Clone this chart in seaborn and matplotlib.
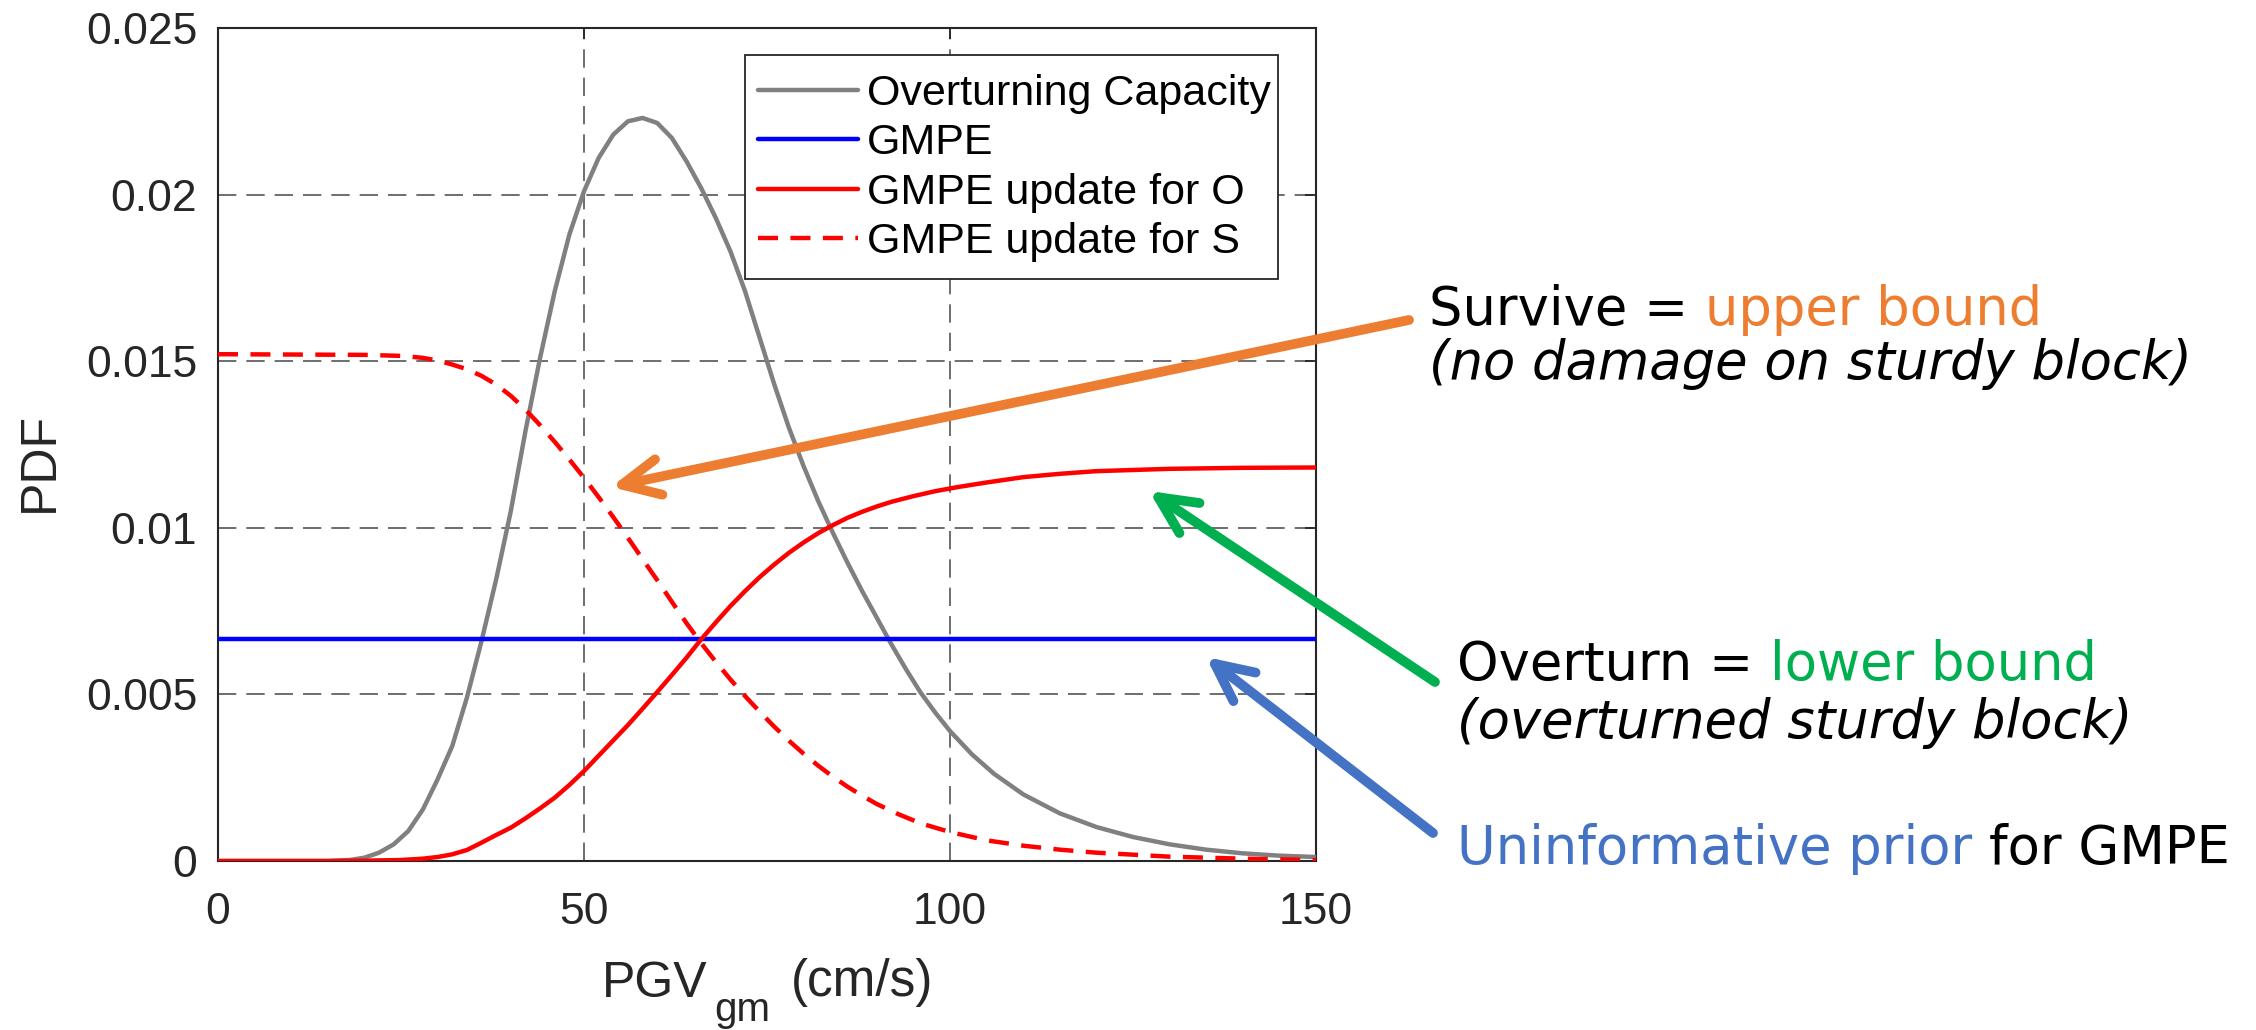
import matplotlib
matplotlib.use("Agg")
import matplotlib.pyplot as plt
from matplotlib.patches import FancyArrowPatch, ArrowStyle, Rectangle
import seaborn as sns

# ---- curve samples: PGV_gm (cm/s) vs PDF ----
x_capacity = [0, 15, 18, 20, 22, 24, 26, 28, 30, 32, 34, 36, 38, 40, 42, 44, 46, 48,
              50, 52, 54, 56, 58, 60, 62, 64, 66, 68, 70, 72, 74, 76, 78, 80, 82, 84,
              86, 88, 90, 92, 94, 96, 98, 100, 103, 106, 110, 115, 120, 125, 130,
              135, 140, 145, 150]
y_capacity = [0, 0, 0.00003, 0.0001, 0.00025, 0.0005, 0.0009, 0.00155, 0.00245,
              0.00345, 0.0049, 0.0066, 0.00845, 0.0105, 0.0129, 0.0151, 0.0171,
              0.0188, 0.0201, 0.0211, 0.0218, 0.0222, 0.0223, 0.02215, 0.0217,
              0.021, 0.0202, 0.0193, 0.0183, 0.0171, 0.0157, 0.0143, 0.013, 0.01185,
              0.0108, 0.00985, 0.00895, 0.0081, 0.0073, 0.0065, 0.00575, 0.00505,
              0.00445, 0.0039, 0.0032, 0.00262, 0.002, 0.00143, 0.00102, 0.00072,
              0.0005, 0.00034, 0.00023, 0.00016, 0.00012]

x_gmpe = [0, 150]
y_gmpe = [0.006667, 0.006667]

x_update_o = [0, 15, 20, 25, 28, 30, 32, 34, 36, 38, 40, 42, 44, 46, 48, 50, 52, 54,
              56, 58, 60, 62, 64, 66, 68, 70, 72, 74, 76, 78, 80, 82, 84, 86, 88, 90,
              92, 95, 98, 101, 105, 110, 115, 120, 130, 140, 150]
y_update_o = [0, 0, 0.00001, 0.00003, 0.00007, 0.00012, 0.0002, 0.00033, 0.00055,
              0.00078, 0.001, 0.00128, 0.00158, 0.0019, 0.00228, 0.0027, 0.00316,
              0.00362, 0.00408, 0.00457, 0.00507, 0.00558, 0.0061, 0.00665, 0.00716,
              0.00765, 0.0081, 0.00852, 0.0089, 0.00925, 0.00956, 0.00984, 0.01008,
              0.0103, 0.01048, 0.01064, 0.01078, 0.01095, 0.0111, 0.01122, 0.01136,
              0.01152, 0.01162, 0.0117, 0.01177, 0.0118, 0.01181]

x_update_s = [0, 10, 20, 25, 28, 30, 32, 34, 36, 38, 40, 42, 44, 46, 48, 50, 52, 54,
              56, 58, 60, 62, 64, 66, 68, 70, 72, 74, 76, 78, 80, 82, 84, 86, 88, 90,
              93, 96, 100, 105, 110, 115, 120, 130, 140, 150]
y_update_s = [0.01521, 0.0152, 0.01519, 0.01516, 0.0151, 0.01502, 0.0149, 0.01476,
              0.01456, 0.0143, 0.01396, 0.01355, 0.01308, 0.01258, 0.01205, 0.0115,
              0.01092, 0.01032, 0.0097, 0.00906, 0.00843, 0.00778, 0.00714, 0.00654,
              0.00598, 0.00545, 0.00495, 0.00448, 0.00403, 0.00361, 0.00322, 0.00286,
              0.00253, 0.00223, 0.00196, 0.00171, 0.0014, 0.00113, 0.00087, 0.00062,
              0.00046, 0.00034, 0.00025, 0.00013, 0.00007, 0.00003]

series_labels = ["Overturning Capacity", "GMPE", "GMPE update for O", "GMPE update for S"]
x_ticks = [0, 50, 100, 150]
y_ticks = [0, 0.005, 0.01, 0.015, 0.02, 0.025]
y_tick_labels = ["0", "0.005", "0.01", "0.015", "0.02", "0.025"]

sns.set_style("white")
plt.rcParams["font.family"] = ["Liberation Sans", "DejaVu Sans"]

W, H = 2256, 1030
fig = plt.figure(figsize=(W / 100, H / 100), dpi=100)
fig.patch.set_facecolor("white")
ax_l, ax_r, ax_t, ax_b = 218, 1316, 28, 861
ax = fig.add_axes([ax_l / W, 1 - ax_b / H, (ax_r - ax_l) / W, (ax_b - ax_t) / H])

lw = 3.2
sns.lineplot(x=x_capacity, y=y_capacity, ax=ax, color="#808080", linewidth=lw,
             label=series_labels[0], zorder=3)
sns.lineplot(x=x_gmpe, y=y_gmpe, ax=ax, color="#0000FF", linewidth=lw,
             label=series_labels[1], zorder=3)
sns.lineplot(x=x_update_o, y=y_update_o, ax=ax, color="#FF0000", linewidth=lw,
             label=series_labels[2], zorder=3)
sns.lineplot(x=x_update_s, y=y_update_s, ax=ax, color="#FF0000", linewidth=lw,
             linestyle=(0, (4.5, 2.8)), label=series_labels[3], zorder=3)
for ln in ax.lines:
    ln.set_solid_joinstyle("round")

ax.set_xlim(0, 150)
ax.set_ylim(0, 0.025)
ax.set_xticks(x_ticks)
ax.set_xticklabels([str(v) for v in x_ticks])
ax.set_yticks(y_ticks)
ax.set_yticklabels(y_tick_labels)

ax.grid(True, color="#555555", lw=1.2, linestyle=(0, (11, 6)), zorder=0)
ax.set_axisbelow(True)
for sp in ax.spines.values():
    sp.set_visible(True)
    sp.set_color("#262626")
    sp.set_linewidth(1.5)
ax.tick_params(axis="both", which="major", direction="in", length=8, width=1.3,
               color="#262626", labelcolor="#262626", labelsize=32,
               top=True, right=True)
ax.tick_params(axis="x", pad=22)
ax.tick_params(axis="y", pad=15)
ax.set_xlabel("")
ax.set_ylabel("")


def fx(px):
    return px / W


def fy(py):
    return 1 - py / H


# ---- legend: boxed panel in the upper right of the axes ----
legend_box = Rectangle((fx(745), fy(279)), fx(1278) - fx(745), fy(55) - fy(279),
                       transform=fig.transFigure, facecolor="white",
                       edgecolor="#262626", lw=1.3, zorder=4.5, clip_on=False)
ax.add_patch(legend_box)
leg = ax.legend(loc="upper left",
                bbox_to_anchor=((758 - ax_l) / (ax_r - ax_l), (ax_b - 74) / (ax_b - ax_t)),
                borderaxespad=0, borderpad=0, frameon=False, fontsize=31,
                handlelength=2.33, handletextpad=0.2, labelspacing=0.22)
leg.set_zorder(5)
for t in leg.get_texts():
    t.set_color("black")

# ---- axis titles ----
lab_col = "#262626"
fig.text(fx(40), fy(462), "PDF", rotation=90, ha="center", va="center",
         fontsize=36, color=lab_col)
t_pgv = fig.text(fx(602), fy(997), "PGV", ha="left", va="baseline",
                 fontsize=36, color=lab_col)
t_gm = ax.annotate("gm", xy=(1, 0), xycoords=t_pgv, xytext=(7, -14),
                   textcoords="offset pixels", ha="left", va="baseline",
                   fontsize=29, color=lab_col, annotation_clip=False)
ax.annotate("(cm/s)", xy=(1, 0), xycoords=t_gm, xytext=(20, 33),
            textcoords="offset pixels", ha="left", va="baseline",
            fontsize=37, color=lab_col, annotation_clip=False)

# ---- annotation arrows (figure pixel positions) ----
arrow_specs = [
    ((1409, 320), (611, 487), "#ED7D31"),
    ((1435, 682), (1149, 491), "#00B050"),
    ((1433, 833), (1206, 657), "#4472C4"),
]
for (tx, ty), (hx, hy), col in arrow_specs:
    arr = FancyArrowPatch((fx(tx), fy(ty)), (fx(hx), fy(hy)),
                          transform=fig.transFigure,
                          arrowstyle=ArrowStyle("->", head_length=27, head_width=13),
                          mutation_scale=1, color=col, lw=7,
                          capstyle="round", joinstyle="round",
                          shrinkA=0, shrinkB=0, clip_on=False, zorder=10)
    fig.add_artist(arr)

# ---- annotation text ----
txt_kw = dict(fontsize=38, family="DejaVu Sans", va="baseline", ha="left")


def two_colour(x, y, first, second, first_col, second_col):
    t = fig.text(fx(x), fy(y), first, color=first_col, **txt_kw)
    ax.annotate(second, xy=(1, 0), xycoords=t, va="bottom", ha="left",
                color=second_col, fontsize=38, family="DejaVu Sans",
                annotation_clip=False)
    return t


two_colour(1429, 325, "Survive = ", "upper bound", "black", "#ED7D31")
fig.text(fx(1429), fy(379), "(no damage on sturdy block)", style="italic",
         color="black", **txt_kw)
two_colour(1457, 680, "Overturn = ", "lower bound", "black", "#00B050")
fig.text(fx(1457), fy(738), "(overturned sturdy block)", style="italic",
         color="black", **txt_kw)
two_colour(1457, 864, "Uninformative prior ", "for GMPE", "#4472C4", "black")

fig.savefig("out.png", dpi=100, facecolor="white")
